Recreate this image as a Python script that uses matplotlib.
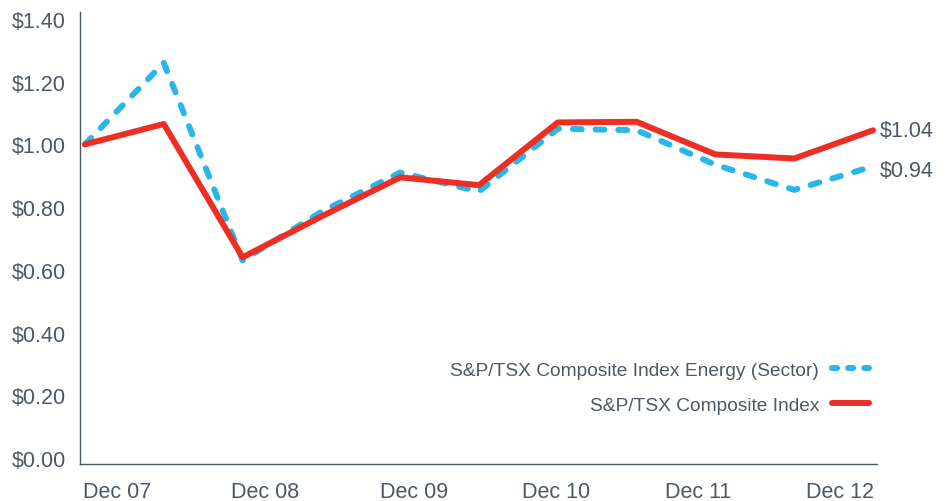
import matplotlib
matplotlib.use("Agg")
import matplotlib.pyplot as plt

# semi-annual points, Dec 07 .. Dec 12
periods = ["Dec 07", "Jun 08", "Dec 08", "Jun 09", "Dec 09", "Jun 10",
           "Dec 10", "Jun 11", "Dec 11", "Jun 12", "Dec 12"]
energy = [1.00, 1.26, 0.63, 0.785, 0.91, 0.85, 1.05, 1.045, 0.935, 0.855, 0.93]
composite = [1.00, 1.065, 0.64, 0.77, 0.895, 0.87, 1.07, 1.072, 0.968, 0.955, 1.045]

year_labels = ["Dec 07", "Dec 08", "Dec 09", "Dec 10", "Dec 11", "Dec 12"]
year_label_pos = [0.41, 2.28, 4.18, 5.98, 7.78, 9.58]
y_ticks = [0.0, 0.2, 0.4, 0.6, 0.8, 1.0, 1.2, 1.4]

end_labels = ["$1.04", "$0.94"]

text_col = "#4b5966"
red = "#ee2e24"
blue = "#29b6e8"
fs = 15.5
leg_fs = 13.8

plt.rcParams["font.family"] = ["Liberation Sans", "DejaVu Sans"]

fig = plt.figure(figsize=(9.51, 5.02), dpi=100)
ax = fig.add_axes([0.0841, 0.0737, 0.8381, 0.901])

x = list(range(len(periods)))
ax.plot(x, energy, color=blue, lw=4.3, ls=(0, (1.5, 2.3)),
        dash_capstyle="round", solid_capstyle="round",
        label="S&P/TSX Composite Index Energy (Sector)")
ax.plot(x, composite, color=red, lw=4.3, solid_capstyle="round",
        label="S&P/TSX Composite Index")

ax.set_xlim(-0.063, 10.05)
ax.set_ylim(-0.019, 1.423)

ax.set_yticks(y_ticks)
ax.set_yticklabels([f"${v:.2f}" for v in y_ticks])
ax.set_xticks(year_label_pos)
ax.set_xticklabels(year_labels)
ax.tick_params(axis="both", length=0, labelsize=fs, colors=text_col)
ax.tick_params(axis="y", pad=10)
ax.tick_params(axis="x", pad=12)

for side in ["top", "right"]:
    ax.spines[side].set_visible(False)
for side in ["left", "bottom"]:
    ax.spines[side].set_color(text_col)
    ax.spines[side].set_linewidth(1.0)

# end-point value labels
ax.annotate(end_labels[0], (x[-1], composite[-1]), xytext=(7, 0),
            textcoords="offset pixels", va="center", ha="left",
            fontsize=fs, color=text_col, annotation_clip=False)
ax.annotate(end_labels[1], (x[-1], energy[-1]), xytext=(7, -4),
            textcoords="offset pixels", va="center", ha="left",
            fontsize=fs, color=text_col, annotation_clip=False)

leg = ax.legend(loc="lower right", bbox_to_anchor=(1.0, 0.094),
                frameon=False, markerfirst=False, fontsize=leg_fs,
                handlelength=1.93, handletextpad=0.68, labelspacing=0.92,
                borderaxespad=0)
for t in leg.get_texts():
    t.set_color(text_col)
leg.get_lines()[0].set_linestyle((0, (0.85, 1.85)))

fig.savefig("out.png", dpi=100)
